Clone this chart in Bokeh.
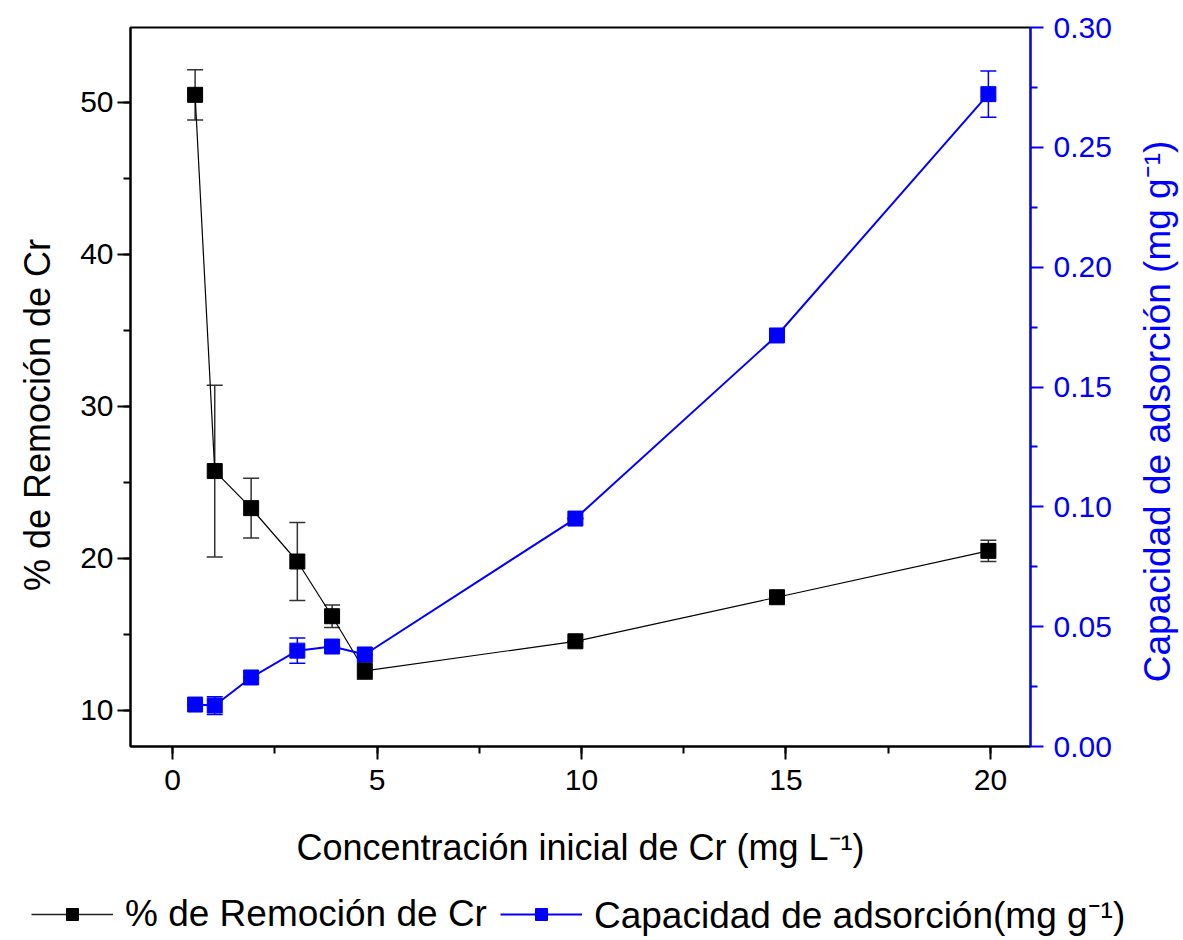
from bokeh.plotting import figure
from bokeh.models import (Range1d, LinearAxis, Whisker, TeeHead, ColumnDataSource,
                          Legend, LegendItem, FixedTicker, CustomJSTickFormatter, Label)
from bokeh.layouts import column, row
from bokeh.embed import file_html
from bokeh.resources import INLINE

# ---- data ----
conc = [0.55, 1.03, 1.92, 3.05, 3.9, 4.7, 9.85, 14.78, 19.95]
removal = [50.5, 25.75, 23.31, 19.8, 16.2, 12.6, 14.55, 17.45, 20.5]
removal_err = [1.65, 5.65, 1.97, 2.57, 0.74, 0.55, 0.0, 0.0, 0.7]
capacity = [0.0175, 0.0171, 0.0288, 0.0400, 0.0417, 0.0384, 0.0951, 0.1715, 0.2722]
capacity_err = [0.0, 0.0037, 0.0, 0.0053, 0.0, 0.0, 0.0, 0.0, 0.0096]

cap_ticks = [0.0, 0.05, 0.10, 0.15, 0.20, 0.25, 0.30]
cap_minor = [0.025, 0.075, 0.125, 0.175, 0.225, 0.275]

x_label = "Concentración inicial de Cr (mg L⁻¹)"
y_label = "% de Remoción de Cr"
y2_label = "Capacidad de adsorción (mg g⁻¹)"
legend_labels = ["% de Remoción de Cr", "Capacidad de adsorción(mg g⁻¹)"]

FONT = "Liberation Sans"
BLUE = "#0000ff"

src1 = ColumnDataSource(dict(
    x=conc, y=removal,
    lo=[v - e for v, e in zip(removal, removal_err)],
    hi=[v + e for v, e in zip(removal, removal_err)]))
src2 = ColumnDataSource(dict(
    x=conc, y=capacity,
    lo=[v - e for v, e in zip(capacity, capacity_err)],
    hi=[v + e for v, e in zip(capacity, capacity_err)]))

LEFT_W, RIGHT_W, MAIN_H = 60, 53, 890
MAIN_W = 1183 - LEFT_W - RIGHT_W
p = figure(width=MAIN_W, height=MAIN_H, output_backend="svg", toolbar_location=None,
           x_range=Range1d(-1.03, 20.98), y_range=Range1d(7.63, 54.93),
           min_border_left=130 - LEFT_W, min_border_right=100, min_border_top=27,
           min_border_bottom=144)
p.extra_y_ranges = {"cap": Range1d(0, 0.30)}
p.grid.visible = False
p.outline_line_color = "black"
p.outline_line_width = 2
p.background_fill_color = "white"
p.border_fill_color = "white"

# error bars
w1 = Whisker(source=src1, base="x", lower="lo", upper="hi", line_color="#333333",
             line_width=1.5,
             upper_head=TeeHead(size=16, line_color="#333333", line_width=1.5),
             lower_head=TeeHead(size=16, line_color="#333333", line_width=1.5))
w2 = Whisker(source=src2, base="x", lower="lo", upper="hi", line_color=BLUE,
             line_width=1.5, y_range_name="cap",
             upper_head=TeeHead(size=16, line_color=BLUE, line_width=1.5),
             lower_head=TeeHead(size=16, line_color=BLUE, line_width=1.5))
p.add_layout(w1)
p.add_layout(w2)

p.line("x", "y", source=src1, line_color="black", line_width=1.2)
p.scatter("x", "y", source=src1, marker="square", size=15,
          fill_color="black", line_color="black")
p.line("x", "y", source=src2, line_color=BLUE, line_width=2, y_range_name="cap")
p.scatter("x", "y", source=src2, marker="square", size=15,
          fill_color=BLUE, line_color=BLUE, y_range_name="cap")

# axes
def style_axis(ax, color):
    ax.axis_line_color = color
    ax.axis_line_width = 2
    ax.major_tick_line_color = color
    ax.major_tick_line_width = 2
    ax.minor_tick_line_color = color
    ax.minor_tick_line_width = 2
    ax.major_tick_out = 13
    ax.major_tick_in = 0
    ax.minor_tick_out = 7
    ax.minor_tick_in = 0
    ax.major_label_text_color = color
    ax.major_label_text_font = FONT
    ax.major_label_text_font_size = "30px"
    ax.axis_label_text_color = color
    ax.axis_label_text_font = FONT
    ax.axis_label_text_font_size = "36px"
    ax.axis_label_text_font_style = "normal"

xa = p.xaxis[0]
style_axis(xa, "black")
xa.ticker.desired_num_ticks = 5
xa.ticker.num_minor_ticks = 2
xa.axis_label = x_label
xa.major_label_standoff = 10
xa.axis_label_standoff = 34

ya = p.yaxis[0]
style_axis(ya, "black")
ya.ticker.desired_num_ticks = 5
ya.ticker.num_minor_ticks = 2
ya.major_label_standoff = 4

ya2 = LinearAxis(y_range_name="cap")
style_axis(ya2, BLUE)
ya2.ticker = FixedTicker(ticks=cap_ticks, minor_ticks=cap_minor)
ya2.major_label_standoff = 10
ya2.formatter = CustomJSTickFormatter(code="return tick.toFixed(2);")
p.add_layout(ya2, "right")

def title_strip(width, text, color, x, y, size):
    s = figure(width=width, height=MAIN_H, output_backend="svg",
               toolbar_location=None, x_range=Range1d(0, 1), y_range=Range1d(0, 1),
               min_border=0, outline_line_color=None)
    s.axis.visible = False
    s.grid.visible = False
    s.add_layout(Label(x=x, y=y, text=text, angle=90, angle_units="deg",
                       text_align="center", text_baseline="middle",
                       text_color=color, text_font=FONT, text_font_size=size))
    return s

# axis titles reading bottom-to-top, in narrow strips on each side
pleft = title_strip(LEFT_W, y_label, "black", 0.62, 0.461, "36px")
pr = title_strip(RIGHT_W, y2_label, BLUE, 0.5, 0.466, "37px")

# legend strip (shares the data sources; its ranges show none of the points)
pl = figure(width=1183, height=940 - MAIN_H, output_backend="svg",
            toolbar_location=None, x_range=Range1d(-3, -2), y_range=Range1d(-3, -2),
            min_border=0, outline_line_color=None)
pl.axis.visible = False
pl.grid.visible = False
gl1 = pl.line("x", "y", source=src1, line_color="#222222", line_width=1.5)
gs1 = pl.scatter("x", "y", source=src1, marker="square", size=15,
                 fill_color="black", line_color="black")
gl2 = pl.line("x", "y", source=src2, line_color=BLUE, line_width=2)
gs2 = pl.scatter("x", "y", source=src2, marker="square", size=15,
                 fill_color=BLUE, line_color=BLUE)
legend = Legend(items=[LegendItem(label=legend_labels[0], renderers=[gl1, gs1]),
                       LegendItem(label=legend_labels[1], renderers=[gl2, gs2])],
                orientation="horizontal", location=(31, 1),
                label_text_font=FONT, label_text_font_size="37px",
                label_text_color="black",
                glyph_width=82, glyph_height=30, label_standoff=12, spacing=13,
                padding=2, margin=0, border_line_color=None,
                background_fill_alpha=0)
pl.add_layout(legend, "center")

layout = column(row(pleft, p, pr), pl)
open("out.html", "w").write(file_html(layout, INLINE))
